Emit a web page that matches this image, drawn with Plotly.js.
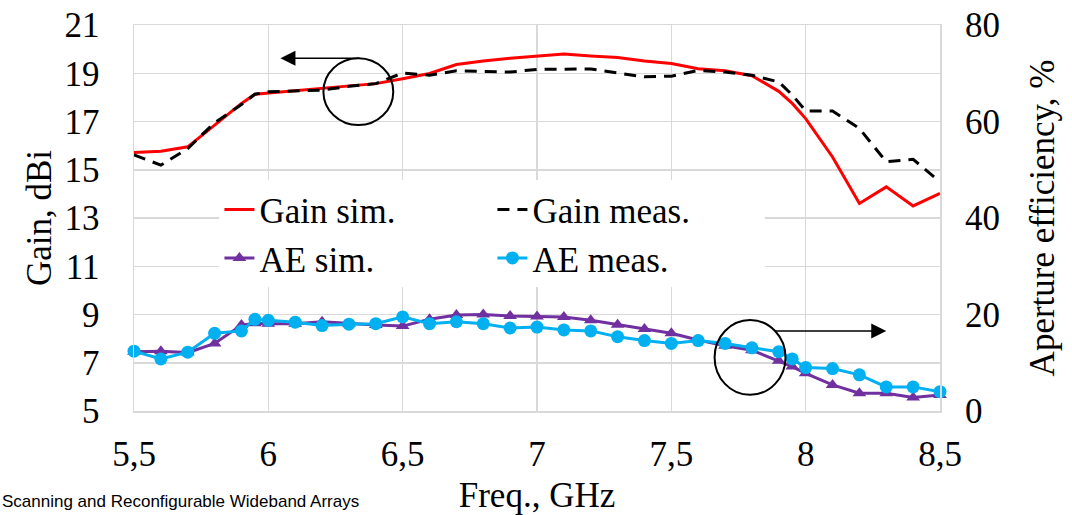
<!DOCTYPE html>
<html>
<head>
<meta charset="utf-8">
<script src="https://cdn.plot.ly/plotly-3.0.1.min.js"></script>
<style>html,body{margin:0;padding:0;background:#fff;}#chart{width:1072px;height:515px;}</style>
</head>
<body>
<div id="chart"></div>
<script>
// Frequency points (GHz)
const freq = [5.5,5.6,5.7,5.8,5.9,5.95,6.0,6.1,6.2,6.3,6.4,6.5,6.6,6.7,6.8,6.9,7.0,7.1,7.2,7.3,7.4,7.5,7.6,7.7,7.8,7.9,7.95,8.0,8.1,8.2,8.3,8.4,8.5];
// Gain, dBi
const gainSim  = [15.72,15.77,15.95,16.85,17.75,18.13,18.18,18.30,18.39,18.49,18.57,18.77,18.99,19.36,19.51,19.62,19.70,19.80,19.72,19.65,19.51,19.40,19.19,19.10,18.90,18.25,17.75,17.12,15.53,13.60,14.29,13.50,14.02];
const gainMeas = [15.62,15.19,15.88,16.95,17.70,18.13,18.23,18.25,18.30,18.46,18.57,19.01,18.92,19.10,19.08,19.05,19.16,19.18,19.18,19.01,18.85,18.88,19.12,19.05,18.92,18.64,18.10,17.44,17.44,16.71,15.33,15.43,14.50];
// Aperture efficiency, %
const aeSim  = [12.3,12.4,12.1,14.0,17.8,18.2,18.1,18.1,18.5,18.1,17.8,17.6,19.0,19.9,20.0,19.7,19.6,19.5,18.8,17.9,17.0,16.1,14.7,13.5,12.6,10.4,9.2,7.8,5.4,3.7,3.7,2.8,3.3];
const aeMeas = [12.4,10.8,12.2,16.1,16.6,19.0,18.8,18.4,17.7,18.0,18.1,19.5,18.1,18.5,18.1,17.2,17.4,16.8,16.6,15.4,14.6,14.0,14.6,14.0,13.1,12.3,10.8,9.0,8.8,7.5,5.0,5.0,4.0];
// Tick labels
const xTickVals = [5.5,6,6.5,7,7.5,8,8.5];
const xTickText = ['5,5','6','6,5','7','7,5','8','8,5'];
const seriesNames = ['Gain sim.','Gain meas.','AE sim.','AE meas.'];

const serif = "'Liberation Serif', 'Times New Roman', 'DejaVu Serif', serif";
const traces = [
  {x: freq, y: gainSim, name: seriesNames[0], type: 'scatter', mode: 'lines',
   line: {color: '#ff0000', width: 3}, cliponaxis: false},
  {x: freq, y: gainMeas, name: seriesNames[1], type: 'scatter', mode: 'lines',
   line: {color: '#000000', width: 3, dash: '12px,8px'}, cliponaxis: false},
  {x: freq, y: aeSim, name: seriesNames[2], type: 'scatter', mode: 'lines+markers', yaxis: 'y2',
   line: {color: '#7030a0', width: 3}, marker: {symbol: 'triangle-up', size: 12, color: '#7030a0'}, cliponaxis: false},
  {x: freq, y: aeMeas, name: seriesNames[3], type: 'scatter', mode: 'lines+markers', yaxis: 'y2',
   line: {color: '#00b0f0', width: 3}, marker: {symbol: 'circle', size: 13, color: '#00b0f0'}, cliponaxis: false}
];

const grid = '#d9d9d9';
const tf = {family: serif, size: 35, color: '#000'};
const layout = {
  width: 1072, height: 515,
  margin: {l: 134, r: 132, t: 25, b: 104, pad: 0},
  paper_bgcolor: '#ffffff', plot_bgcolor: '#ffffff',
  font: tf,
  showlegend: true,
  legend: {orientation: 'h', x: 0.106, y: 0.598, xanchor: 'left', yanchor: 'top',
    bgcolor: '#ffffff', font: tf,
    entrywidth: 228, entrywidthmode: 'pixels', traceorder: 'normal'},
  xaxis: {range: [5.5, 8.5], tickmode: 'array', tickvals: xTickVals, ticktext: xTickText,
    showgrid: true, gridcolor: grid, gridwidth: 1.5, zeroline: false,
    showline: true, linecolor: grid, linewidth: 1.5, mirror: true, ticks: '',
    ticklabelstandoff: 11,
    tickfont: tf,
    title: {text: 'Freq., GHz', font: tf, standoff: 12}},
  yaxis: {range: [5, 21], tick0: 5, dtick: 2, showgrid: true, gridcolor: grid, gridwidth: 1.5,
    zeroline: false, showline: true, linecolor: grid, linewidth: 1.5, mirror: true, ticks: '',
    ticklabelstandoff: 26,
    tickfont: tf,
    title: {text: 'Gain, dBi', font: tf, standoff: 2}},
  yaxis2: {range: [0, 80], tick0: 0, dtick: 20, overlaying: 'y', side: 'right',
    showgrid: false, zeroline: false, showline: false, ticks: '',
    ticklabelstandoff: 24,
    tickfont: tf,
    title: {text: 'Aperture efficiency, %', font: tf, standoff: 30}},
  shapes: [
    {type: 'circle', xref: 'x', yref: 'y', x0: 6.205, x1: 6.465, y0: 16.85, y1: 19.62,
     line: {color: '#000', width: 2}},
    {type: 'circle', xref: 'x', yref: 'y', x0: 7.661, x1: 7.925, y0: 5.67, y1: 8.77,
     line: {color: '#000', width: 2}}
  ],
  annotations: [
    {x: 6.045, y: 19.62, ax: 6.345, ay: 19.62, xref: 'x', yref: 'y', axref: 'x', ayref: 'y',
     text: '', showarrow: true, arrowhead: 2, arrowsize: 2, arrowwidth: 1.5, arrowcolor: '#000'},
    {x: 8.30, y: 8.32, ax: 7.88, ay: 8.32, xref: 'x', yref: 'y', axref: 'x', ayref: 'y',
     text: '', showarrow: true, arrowhead: 2, arrowsize: 2, arrowwidth: 1.5, arrowcolor: '#000'},
    {x: -0.166, y: -0.205, xref: 'paper', yref: 'paper', xanchor: 'left', yanchor: 'top',
     text: 'Scanning and Reconfigurable Wideband Arrays', showarrow: false,
     font: {family: "'Liberation Sans', Arial, sans-serif", size: 17, color: '#000'}}
  ]
};
Plotly.newPlot('chart', traces, layout, {displayModeBar: false, staticPlot: true});
</script>
</body>
</html>
